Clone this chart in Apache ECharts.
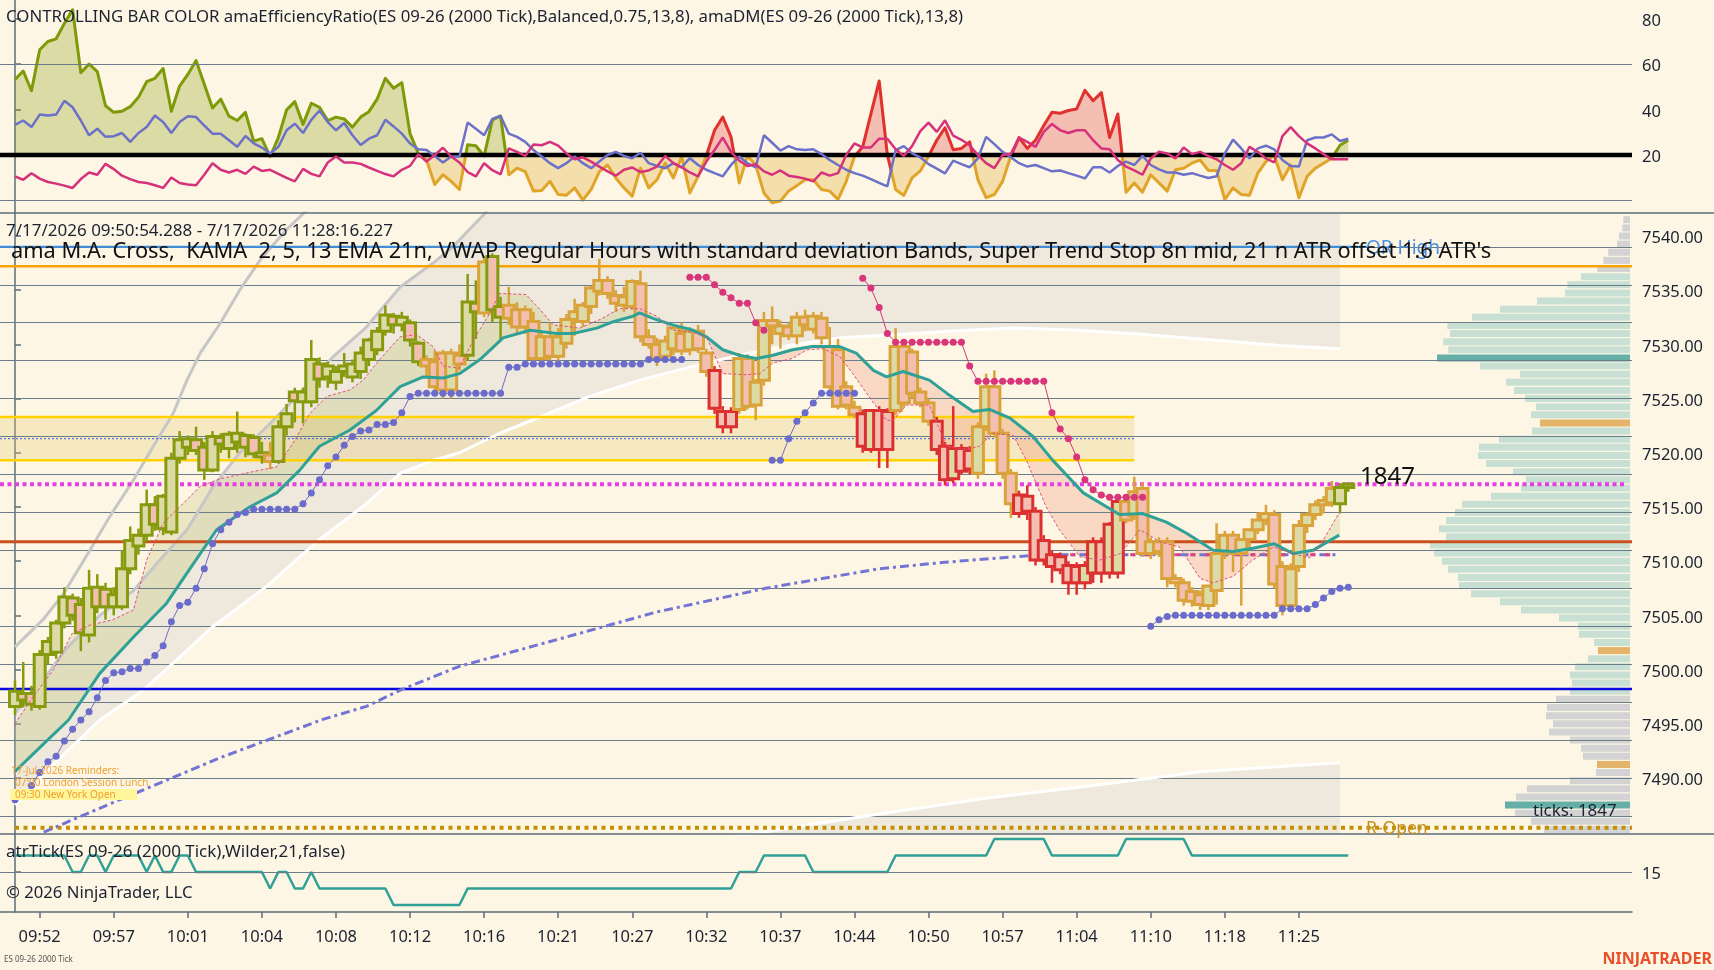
<!DOCTYPE html>
<html>
<head>
<meta charset="utf-8">
<script src="https://cdn.jsdelivr.net/npm/echarts@6/dist/echarts.min.js"></script>
<style>
html,body{margin:0;padding:0;background:#fdf6e4;overflow:hidden}
#chart{width:1714px;height:970px}
</style>
</head>
<body>
<div id="chart"></div>
<script>
// ---------------- DATA ----------------
const timeLabels = ["09:52","09:57","10:01","10:04","10:08","10:12","10:16","10:21","10:27","10:32","10:37","10:44","10:50","10:57","11:04","11:10","11:18","11:25"];
const timeLabelBars = [3,12,21,30,39,48,57,66,75,84,93,102,111,120,129,138,147,156];

const openP = [7496.6,7497.8,7497.8,7496.6,7501.4,7501.6,7504.3,7506.6,7506.0,7503.2,
7507.6,7507.4,7505.8,7505.8,7509.3,7511.4,7512.4,7515.2,7513.0,7512.7,
7519.5,7520.5,7521.2,7520.5,7518.4,7521.4,7520.4,7521.0,7521.6,7521.4,
7520.0,7519.8,7519.2,7522.4,7525.6,7524.7,7524.7,7528.2,7527.0,7526.5,
7527.5,7527.0,7527.5,7528.6,7529.5,7531.2,7532.6,7531.8,7532.0,7530.1,
7528.6,7528.4,7529.2,7525.8,7529.0,7529.0,7533.8,7532.9,7538.1,7533.5,
7533.6,7533.2,7533.2,7532.1,7528.7,7530.7,7528.9,7530.1,7532.3,7532.1,
7533.5,7534.9,7535.9,7534.5,7533.6,7533.5,7535.6,7530.7,7530.0,7528.9,
7529.6,7531.0,7529.5,7531.2,7529.2,7527.6,7523.8,7523.8,7524.0,7528.7,
7524.4,7526.7,7532.2,7531.0,7531.6,7530.8,7532.5,7531.4,7532.4,7529.8,
7529.5,7526.1,7524.2,7523.6,7520.3,7523.9,7523.8,7523.9,7529.8,7529.3,
7525.6,7524.6,7522.9,7520.6,7517.6,7520.4,7520.2,7518.1,7522.4,7526.1,
7521.8,7518.1,7516.1,7516.0,7514.6,7511.9,7510.6,7510.4,7509.6,7509.5,
7508.0,7508.9,7511.8,7508.9,7508.9,7515.5,7514.2,7516.7,7510.7,7511.8,
7511.8,7508.4,7508.0,7507.2,7506.9,7505.9,7507.3,7510.7,7512.4,7510.7,
7512.0,7512.9,7513.8,7514.3,7509.5,7505.9,7509.5,7513.3,7514.3,7515.2,
7515.4,7515.3,7516.8];
const highP = [7499.0,7500.7,7498.5,7501.8,7503.0,7504.6,7507.6,7507.0,7506.6,7509.2,
7508.8,7508.0,7507.6,7511.0,7513.2,7513.0,7516.6,7516.0,7516.2,7520.0,
7522.0,7521.6,7522.4,7521.0,7522.0,7521.8,7522.0,7523.8,7521.8,7521.7,
7521.0,7521.0,7523.0,7524.5,7526.0,7526.0,7530.4,7528.8,7528.4,7528.0,
7529.2,7528.6,7529.8,7530.6,7531.6,7533.6,7532.9,7533.0,7532.3,7530.3,
7529.0,7529.4,7529.5,7529.6,7530.0,7536.5,7535.9,7538.1,7538.4,7534.4,
7535.3,7533.9,7533.6,7533.0,7531.2,7532.0,7531.5,7532.8,7534.2,7533.9,
7535.4,7537.9,7536.3,7535.0,7535.3,7536.0,7536.8,7531.4,7530.6,7530.8,
7531.8,7532.0,7531.6,7531.8,7529.6,7528.0,7524.3,7524.2,7529.2,7529.1,
7526.8,7533.0,7533.5,7532.2,7532.0,7533.0,7533.2,7533.0,7533.0,7531.6,
7530.5,7526.6,7524.8,7524.0,7523.9,7524.3,7524.1,7531.5,7530.1,7529.6,
7526.0,7525.0,7523.3,7521.0,7524.3,7520.8,7520.6,7522.8,7527.3,7527.6,
7522.2,7518.5,7516.5,7517.0,7515.0,7512.4,7511.0,7510.8,7510.0,7509.9,
7510.0,7512.2,7512.2,7513.6,7515.9,7516.0,7517.8,7517.2,7512.2,7512.2,
7512.2,7508.8,7508.4,7507.6,7507.3,7507.8,7513.5,7512.8,7512.8,7512.0,
7513.0,7514.5,7515.2,7514.7,7510.0,7509.8,7513.8,7514.5,7515.6,7516.0,
7517.4,7517.2,7517.3];
const lowP = [7495.8,7496.5,7496.2,7496.3,7500.5,7501.0,7503.8,7504.5,7501.7,7502.5,
7505.2,7504.6,7505.0,7505.5,7508.8,7510.6,7511.8,7512.8,7512.4,7512.4,
7519.0,7519.8,7519.8,7517.5,7518.2,7520.0,7519.5,7520.0,7519.6,7519.5,
7519.0,7518.5,7519.0,7521.6,7522.8,7522.7,7524.2,7526.0,7526.0,7525.8,
7527.0,7526.5,7526.8,7528.0,7529.0,7530.8,7531.0,7531.2,7529.8,7528.0,
7527.0,7525.8,7525.0,7525.0,7527.6,7528.5,7530.5,7532.5,7532.0,7530.4,
7531.8,7531.0,7531.0,7528.4,7528.4,7528.5,7528.2,7529.6,7530.8,7531.6,
7532.8,7534.5,7534.2,7533.0,7533.0,7533.2,7530.2,7529.6,7528.0,7528.4,
7529.0,7529.0,7529.0,7529.2,7527.0,7523.6,7521.8,7521.8,7523.6,7524.0,
7523.0,7526.2,7530.0,7529.6,7530.4,7530.0,7531.2,7531.0,7530.0,7525.8,
7524.0,7524.0,7523.2,7520.0,7520.0,7518.6,7518.6,7523.5,7524.2,7525.0,
7524.2,7522.5,7519.8,7517.0,7517.2,7518.0,7518.0,7517.6,7522.0,7521.4,
7517.6,7514.0,7514.0,7513.8,7509.6,7509.6,7508.0,7508.8,7506.9,7506.9,
7507.4,7508.0,7508.0,7508.4,7508.4,7513.5,7513.8,7510.4,7510.2,7510.4,
7507.6,7507.6,7505.9,7505.8,7505.5,7505.5,7506.0,7510.2,7509.0,7505.9,
7511.2,7512.5,7513.3,7507.5,7505.0,7505.4,7509.0,7512.6,7513.8,7514.4,
7515.0,7514.4,7516.4];
const closeP = [7498.0,7497.2,7496.8,7501.4,7502.6,7504.3,7506.7,7505.0,7503.4,7507.5,
7505.8,7505.8,7506.9,7509.3,7511.9,7512.4,7515.2,7513.4,7516.0,7519.5,
7521.2,7521.3,7520.2,7518.4,7521.5,7520.8,7521.7,7521.8,7520.5,7519.9,
7519.6,7519.2,7522.4,7523.6,7524.8,7525.6,7528.6,7526.8,7528.0,7527.5,
7528.0,7528.2,7529.2,7530.4,7531.2,7532.7,7531.8,7532.5,7530.4,7528.4,
7528.0,7526.1,7525.8,7529.2,7528.2,7533.9,7533.0,7537.6,7533.2,7532.5,
7532.4,7531.6,7531.6,7528.7,7530.7,7528.9,7530.7,7532.3,7533.0,7533.6,
7535.2,7535.9,7534.7,7533.8,7534.4,7535.8,7530.7,7530.0,7528.7,7530.3,
7531.5,7529.4,7531.2,7529.6,7527.5,7524.1,7522.4,7522.4,7528.7,7524.3,
7526.5,7532.2,7531.7,7531.7,7530.8,7532.5,7531.8,7532.6,7530.6,7526.1,
7524.3,7524.4,7523.5,7520.6,7523.9,7520.3,7520.3,7529.8,7524.6,7525.5,
7524.6,7522.9,7520.3,7517.5,7520.4,7518.3,7518.5,7522.4,7526.1,7521.8,
7518.1,7515.3,7514.4,7514.6,7510.1,7510.1,7509.5,7509.2,7508.0,7508.0,
7509.6,7511.8,7508.9,7513.4,7515.5,7513.8,7516.4,7510.7,7511.8,7510.9,
7508.4,7508.0,7506.4,7506.3,7506.0,7507.7,7510.7,7512.4,7510.7,7512.0,
7512.9,7513.8,7514.4,7507.9,7505.9,7509.3,7513.3,7514.3,7515.2,7515.6,
7516.7,7516.8,7517.1];

// oscillator panel
const effRatio = [53.3,57.0,48.3,66.4,70.0,71.2,78.0,84.0,56.2,60.1,
56.7,41.7,38.8,39.3,41.3,45.4,52.3,53.8,58.1,39.3,
50.4,55.5,61.6,51.2,40.7,44.6,37.1,35.2,38.8,26.1,
27.2,19.3,27.7,39.9,43.5,33.5,42.8,41.0,35.2,36.7,
35.9,32.3,36.7,39.1,44.6,53.8,49.4,51.9,29.4,20.7,
17.8,7.0,11.3,8.4,4.8,24.5,24.1,19.5,35.5,37.2,
11.3,14.2,12.7,4.1,4.4,8.4,2.6,2.3,5.5,0.1,
4.8,12.7,15.6,9.9,5.5,1.9,14.2,5.5,9.1,16.4,
9.9,19.3,3.3,10.6,19.6,30.9,36.7,28.0,7.7,19.6,
15.6,3.3,-1.0,-0.3,4.1,6.5,9.1,9.1,4.8,4.1,
0.4,8.4,19.3,23.6,38.1,52.6,20.0,4.8,2.2,9.9,
13.0,19.5,26.5,32.0,22.3,22.9,25.8,9.1,1.2,2.6,
8.4,19.6,27.7,22.9,26.5,33.0,38.8,38.4,39.6,40.3,
48.5,43.9,47.5,27.7,38.1,3.6,7.7,3.6,11.3,7.7,
4.1,13.5,14.2,16.4,17.8,13.2,13.2,0.4,5.5,2.6,
2.3,12.0,17.1,19.8,9.1,15.6,1.2,10.6,14.2,16.4,
18.6,24.3,26.5];
const dmPlus = [33.3,35.2,32.3,37.8,37.4,37.8,43.9,41.0,35.2,28.7,
31.6,28.0,28.3,29.7,25.8,29.7,32.3,37.4,34.5,29.7,
34.5,37.1,36.7,33.0,29.4,29.4,26.5,23.6,28.4,25.1,
23.3,20.7,23.6,30.9,33.8,29.7,35.5,39.6,34.5,30.9,
34.1,28.7,24.4,27.2,28.7,35.5,32.6,29.4,25.1,22.5,
22.2,19.6,16.7,19.3,19.3,34.3,31.6,28.7,35.9,37.2,
29.4,28.0,25.8,22.2,19.3,16.4,14.2,16.4,19.3,16.4,
14.2,17.1,20.0,21.4,19.6,18.6,21.0,16.4,15.2,14.2,
16.4,14.6,18.6,15.6,13.5,12.0,10.6,15.6,19.3,16.4,
14.6,28.7,25.4,21.9,23.9,22.5,22.2,22.5,20.4,17.8,
15.6,13.5,12.0,10.9,9.4,7.7,6.2,22.2,23.9,20.7,
19.0,16.0,14.0,11.9,17.5,16.0,14.6,18.5,28.0,24.8,
21.4,19.0,16.4,14.9,15.6,14.2,12.8,13.2,12.0,10.9,
9.7,14.6,14.6,12.3,15.2,17.1,15.6,19.6,15.6,13.7,
12.3,12.3,11.3,12.0,10.9,9.9,10.6,20.7,26.8,22.9,
18.5,22.9,24.1,22.5,17.8,15.2,14.9,26.5,27.7,27.7,
29.1,26.2,27.2];
const dmMinus = [10.6,9.1,12.0,9.6,8.1,7.4,6.5,5.5,9.4,12.3,
11.3,16.1,13.8,10.9,9.4,8.1,7.7,6.7,5.5,10.1,
7.7,7.0,6.7,11.3,16.4,13.5,12.3,13.5,11.7,14.9,
13.0,13.5,11.7,9.9,8.4,13.9,11.7,10.6,16.7,19.3,
16.7,16.7,16.1,14.5,13.0,11.6,10.6,13.5,15.2,20.4,
17.1,20.0,23.2,19.3,16.7,12.5,10.6,16.4,13.3,11.5,
22.9,21.4,19.6,24.6,24.3,25.8,24.1,20.7,18.1,19.0,
17.1,14.9,12.8,10.9,13.5,14.5,12.5,13.2,14.9,19.6,
16.4,14.6,12.3,10.6,17.1,22.2,27.7,21.4,17.5,15.2,
15.9,12.8,11.3,13.2,10.9,10.3,9.6,8.4,12.3,10.9,
12.0,20.0,25.1,23.3,23.3,27.2,27.2,22.5,19.6,23.9,
30.5,34.3,30.2,35.3,28.5,26.7,24.3,20.0,16.4,14.2,
20.0,20.4,27.7,25.8,23.6,30.2,33.7,30.9,29.7,30.9,
30.9,26.5,22.9,22.5,17.8,14.9,13.2,11.3,18.5,21.4,
20.7,18.5,23.3,20.4,21.4,19.6,18.1,15.6,13.5,16.4,
23.6,21.4,18.5,16.7,28.3,32.3,28.3,25.1,22.9,20.4,
18.1,18.1,18.1];
const erThreshold = 20;

// ATR panel
const atrTicks = [16,16,16,16,16,16,16,15,15,16,
16,15,16,16,16,16,15,16,15,15,
16,16,15,15,15,15,15,15,15,15,
15,14,15,15,14,14,15,14,14,14,
14,14,14,14,14,14,13,13,13,13,
13,13,13,13,13,14,14,14,14,14,
14,14,14,14,14,14,14,14,14,14,
14,14,14,14,14,14,14,14,14,14,
14,14,14,14,14,14,14,14,15,15,
15,16,16,16,16,16,16,15,15,15,
15,15,15,15,15,15,15,16,16,16,
16,16,16,16,16,16,16,16,16,17,
17,17,17,17,17,17,16,16,16,16,
16,16,16,16,16,17,17,17,17,17,
17,17,17,16,16,16,16,16,16,16,
16,16,16,16,16,16,16,16,16,16,
16,16,16];

// moving averages [bar, price]
const ema21 = [[0,7490.6],[3,7492.8],[6.5,7495.35],[10.3,7499.65],[14.4,7503.0],[18.4,7506.1],[21.7,7509.8],[24.5,7512.9],[28.5,7515.0],[31.8,7516.3],[34.6,7518.4],[37,7520.6],[40.7,7522.1],[43.9,7523.9],[46.8,7526.1],[49.6,7527.0],[52,7526.9],[54,7527.3],[56.5,7528.6],[59.3,7530.6],[62.6,7531.3],[65.8,7531.0],[67.8,7531.0],[70.7,7531.5],[72.7,7532.1],[75.1,7532.6],[75.9,7532.9],[77.5,7532.4],[79.9,7531.8],[82.4,7531.3],[84,7530.7],[86,7529.5],[88,7529.0],[90.1,7528.7],[92.1,7529.0],[94.5,7529.5],[96.9,7529.8],[100.2,7529.8],[102.2,7529.2],[104.3,7527.6],[105.9,7527.0],[107.9,7527.5],[111.1,7526.7],[113.2,7525.5],[116.4,7523.8],[118.4,7524.0],[120.9,7523.2],[123.7,7521.5],[126.1,7519.3],[129.8,7516.3],[134.2,7514.3],[137,7514.4],[139.9,7513.6],[142.3,7512.6],[145.6,7511.0],[148,7510.9],[150.4,7511.2],[153,7511.6],[155.3,7510.7],[157.7,7511.0],[160.9,7512.4]];
const kama = [[0,7495.0],[2.2,7497.5],[4.7,7500.0],[6.9,7503.3],[9.1,7504.1],[11.9,7504.6],[14.4,7505.5],[16,7510.1],[18,7513.5],[20,7515.0],[22.5,7516.9],[24.9,7517.6],[29.8,7518.4],[31.8,7518.7],[33.8,7520.9],[35.8,7523.6],[37.9,7525.2],[40.7,7525.8],[42.3,7526.7],[44.3,7528.6],[46.8,7530.7],[48.8,7530.9],[50.8,7529.8],[52,7528.0],[54,7527.8],[55.7,7530.4],[57.7,7532.9],[58.9,7534.7],[62.1,7534.6],[63.8,7533.2],[65.4,7531.8],[68.6,7531.5],[71.1,7532.3],[73.5,7533.3],[75.9,7533.3],[78,7532.6],[80,7531.3],[82.4,7531.1],[84,7530.7],[86,7527.3],[88.9,7527.2],[90.5,7527.3],[92.1,7528.3],[94.5,7528.7],[96.2,7529.5],[98.2,7529.6],[100.2,7528.9],[101.8,7527.3],[104.3,7524.6],[105.9,7523.0],[106.7,7523.0],[108.3,7524.4],[111.1,7524.4],[113.2,7520.6],[115.6,7520.3],[117.2,7520.6],[118.8,7521.8],[121.3,7521.6],[122.9,7519.3],[125.3,7515.0],[126.9,7512.9],[129.4,7510.4],[131.8,7510.1],[134.3,7510.7],[136.7,7512.9],[139.1,7511.8],[141.5,7511.3],[144,7508.4],[145.6,7508.0],[148,7508.6],[150.4,7510.1],[152.9,7511.3],[155.3,7510.7],[157.3,7510.3],[159,7512.0],[161,7514.6]];

// VWAP and deviation bands [bar, price]
const vwap = [[3.5,7485.0],[11.5,7487.6],[24.7,7491.8],[37.4,7495.4],[42.7,7496.6],[46.8,7498.1],[54,7500.3],[64.6,7502.5],[77.9,7505.3],[91.2,7507.5],[105,7509.3],[113,7509.9],[121.3,7510.4],[125.3,7510.6],[160.5,7510.6]];
const vwapDevLine = [[125.3,7510.6],[160.5,7510.6]];
const bandUpper3 = [[0,7502.1],[3.4,7504.6],[5.9,7507.0],[9.1,7511.0],[11.5,7514.1],[14.4,7517.5],[16.8,7520.6],[19.2,7523.6],[20.9,7526.7],[22.5,7529.2],[24.9,7531.9],[27.3,7535.0],[29.8,7537.8],[33,7540.6],[35.5,7542.4]];
const bandUpper2 = [[0,7496.0],[3.4,7499.0],[6.3,7502.0],[10.3,7505.0],[14.4,7507.3],[17.6,7510.1],[20.9,7512.9],[24.1,7516.9],[27.3,7520.0],[30.6,7522.4],[34.6,7525.5],[38.7,7528.9],[42.7,7531.6],[46.8,7535.3],[50.8,7537.5],[53.2,7539.0],[57.5,7542.4]];
const bandUpper1 = [[0,7487.5],[5,7491.5],[10.3,7495.35],[15.6,7498.1],[19.2,7500.6],[24.1,7504.0],[30.6,7507.7],[37,7512.0],[42.7,7515.3],[46.8,7518.1],[50.8,7519.3],[54,7520.0],[58.9,7521.8],[63.8,7523.3],[69.8,7525.2],[75.9,7526.7],[82,7527.9],[88,7529.0],[94.1,7529.9],[100.2,7530.6],[107.5,7530.9],[113.2,7531.2],[121.3,7531.5],[129.4,7531.3],[137.5,7530.9],[145.6,7530.4],[153.7,7529.9],[161,7529.6]];
const bandLower1 = [[83,7484.0],[95,7485.5],[104.4,7486.6],[117.7,7488.1],[131,7489.3],[144.3,7490.6],[161,7491.4]];
const bandEndBar = 161;

// super trend stop (per bar, null where inactive)
const stBull = [7488.0,7488.3,7489.3,7490.5,7491.5,7492.0,7493.4,7494.5,7495.35,7496.1,
7497.4,7499.0,7499.7,7499.8,7500.1,7500.1,7500.7,7501.3,7502.2,7504.4,
7505.9,7506.2,7507.5,7509.3,7511.6,7512.9,7513.6,7514.3,7514.5,7514.8,
7514.8,7514.8,7514.8,7514.8,7514.8,7515.3,7516.3,7517.5,7518.8,7519.6,
7520.7,7521.5,7522.0,7522.1,7522.6,7522.6,7522.8,7523.7,7525.2,7525.5,
7525.5,7525.5,7525.5,7525.5,7525.5,7525.5,7525.5,7525.5,7525.5,7525.5,
7527.9,7527.9,7528.2,7528.2,7528.2,7528.2,7528.2,7528.2,7528.2,7528.2,
7528.2,7528.2,7528.2,7528.2,7528.2,7528.2,7528.2,7528.6,7528.6,7528.6,
7528.6,7528.6,null,null,null,null,null,null,null,null,
null,null,7519.3,7519.3,7521.3,7522.9,7523.7,7524.6,7525.5,7525.5,
7525.5,7525.5,7525.5,null,null,null,null,null,null,null,
null,null,null,null,null,null,null,null,null,null,
null,null,null,null,null,null,null,null,null,null,
null,null,null,null,null,null,null,null,7504.0,7504.6,
7504.9,7505.0,7505.0,7505.0,7505.0,7505.0,7505.0,7505.0,7505.0,7505.0,
7505.0,7505.0,7505.0,7505.0,7505.6,7505.6,7505.6,7505.6,7506.0,7506.6,
7507.2,7507.5,7507.6];
const stBear = [null,null,null,null,null,null,null,null,null,null,
null,null,null,null,null,null,null,null,null,null,
null,null,null,null,null,null,null,null,null,null,
null,null,null,null,null,null,null,null,null,null,
null,null,null,null,null,null,null,null,null,null,
null,null,null,null,null,null,null,null,null,null,
null,null,null,null,null,null,null,null,null,null,
null,null,null,null,null,null,null,null,null,null,
null,null,7536.2,7536.2,7536.2,7535.5,7534.8,7534.3,7533.8,7533.8,
7532.0,7531.3,null,null,null,null,null,null,null,null,
null,null,null,7536.1,7535.2,7533.4,7531.0,7530.2,7530.2,7530.2,
7530.2,7530.2,7530.2,7530.2,7530.2,7530.2,7528.0,7526.6,7526.6,7526.6,
7526.6,7526.6,7526.6,7526.6,7526.6,7526.6,7523.7,7522.2,7521.3,7519.6,
7517.5,7516.6,7516.1,7515.9,7515.9,7515.9,7515.9,7515.9,null,null,
null,null,null,null,null,null,null,null,null,null,
null,null,null,null,null,null,null,null,null,null,
null,null,null];

// horizontal reference levels
const orHigh = 7539.0, orHighEndBar = 164.3;
const orangeLevel = 7537.2;
const zoneHigh = 7523.3, zoneLow = 7519.3, zoneMid = 7521.3, zoneEndBar = 136;
const lastPriceLevel = 7517.1;
const redLevel = 7511.8;
const blueLevel = 7498.2;
const rOpenLevel = 7485.4;
const priceGridLevels = [7486.5,7490,7493.5,7497,7500.5,7504,7507.5,7511,7514.5,7518,7521.5,7525,7528.5,7532,7535.5,7539];
const priceTicks = [7490,7495,7500,7505,7510,7515,7520,7525,7530,7535,7540];

// volume profile (ticks per row, relative)
const vpPrice = [7541.5,7540.75,7540,7539.25,7538.5,7537.75,7537,7536.25,7535.5,7534.75,7534,7533.25,7532.5,7531.75,7531,7530.25,7529.5,7528.75,7528,7527.25,7526.5,7525.75,7525,7524.25,7523.5,7522.75,7522,7521.25,7520.5,7519.75,7519,7518.25,7517.5,7516.75,7516,7515.25,7514.5,7513.75,7513,7512.25,7511.5,7510.75,7510,7509.25,7508.5,7507.75,7507,7506.25,7505.5,7504.75,7504,7503.25,7502.5,7501.75,7501,7500.25,7499.5,7498.75,7498,7497.25,7496.5,7495.75,7495,7494.25,7493.5,7492.75,7492,7491.25,7490.5,7489.75,7489,7488.25,7487.5,7486.75,7486,7485.25,7484.5];
const vpVolume = [6.7,7.7,11,13,21.7,26.7,32.7,49,62.7,65,93,130,158,182.7,180,186.7,181.7,193,150,110,124,116,105,94,99,90,98,131,151,152,144,117,104,109,139,168,175,184,191,184,200,196,188,182,172,171,159,130,109,71,52,51,36,32,42,55,60,58,60,74,83,84,77,81,60,49,47,33,34,60,103,114,125,115,99,86,77];
const vpKind = ['g','g','g','g','g','g','g','v','v','v','v','v','v','v','v','v','v','p','v','v','v','v','v','v','v','o','v','v','v','v','v','v','v','v','v','v','v','v','v','v','v','v','v','v','v','v','v','v','v','v','v','v','v','o','v','v','v','v','v','g','g','g','g','g','g','g','g','o','g','g','g','g','p','g','g','g','g'];

// ---------------- LAYOUT / STYLE ----------------
const BAR_PX = 8.23, FIRST_BAR_PX = 15, PLOT_W = 1632;
const xMin = -FIRST_BAR_PX / BAR_PX, xMax = xMin + PLOT_W / BAR_PX;
const priceMin = 7484.83, priceMax = 7542.12;
const oscMin = -5.55, oscMax = 88.3;
const atrMin = 12.58, atrMax = 17.3;
const FONT = '"Noto Sans", "Open Sans", sans-serif';
const AXIS_COL = '#5b6e7b', GRID_COL = '#6a7e8a', TXT = '#1b2230';

const ER_STYLE = {
  G: {line: '#7e9a08', fill: 'rgba(128,148,0,0.27)'},
  R: {line: '#e0312f', fill: 'rgba(224,50,50,0.28)'},
  Y: {line: '#e0a428', fill: 'rgba(224,164,40,0.30)'}
};
const CANDLE_COL = {G: '#869a0e', R: '#dc3030', Y: '#d9a23a'};

function erRegime(i) {
  const v = effRatio[i];
  if (v < erThreshold) return 'Y';
  return dmMinus[i] > dmPlus[i] ? 'R' : 'G';
}
function interp(pts, x) {
  if (x <= pts[0][0]) return pts[0][1];
  for (let k = 1; k < pts.length; k++) {
    if (x <= pts[k][0]) {
      const a = pts[k - 1], b = pts[k];
      return a[1] + (b[1] - a[1]) * (x - a[0]) / (b[0] - a[0]);
    }
  }
  return pts[pts.length - 1][1];
}

// ---------------- RENDERERS ----------------
function renderER(params, api) {
  const runs = []; let cur = null;
  for (let i = 0; i < effRatio.length - 1; i++) {
    const e0 = effRatio[i], e1 = effRatio[i + 1];
    const r0 = erRegime(i), r1 = erRegime(i + 1);
    let pieces;
    if (r0 === r1) pieces = [[i, e0, i + 1, e1, r0]];
    else {
      let xm, ym;
      if ((e0 - erThreshold) * (e1 - erThreshold) < 0) { const t = (erThreshold - e0) / (e1 - e0); xm = i + t; ym = erThreshold; }
      else { xm = i + 0.5; ym = (e0 + e1) / 2; }
      pieces = [[i, e0, xm, ym, r0], [xm, ym, i + 1, e1, r1]];
    }
    pieces.forEach(p => {
      if (cur && cur.r === p[4]) cur.pts.push([p[2], p[3]]);
      else { if (cur) runs.push(cur); cur = {r: p[4], pts: [[p[0], p[1]], [p[2], p[3]]]}; }
    });
  }
  if (cur) runs.push(cur);
  const ch = [];
  runs.forEach(run => {
    const pts = run.pts.map(p => api.coord(p));
    const poly = [api.coord([run.pts[0][0], erThreshold])].concat(pts, [api.coord([run.pts[run.pts.length - 1][0], erThreshold])]);
    ch.push({type: 'polygon', shape: {points: poly}, style: {fill: ER_STYLE[run.r].fill}, z2: 1});
  });
  runs.forEach(run => {
    ch.push({type: 'polyline', shape: {points: run.pts.map(p => api.coord(p))}, style: {stroke: ER_STYLE[run.r].line, lineWidth: 3, fill: null, lineJoin: 'round'}, z2: 2});
  });
  return {type: 'group', children: ch};
}

function fillBetween(api, upFn, loFn, a, b, step) {
  const top = [], bot = [];
  for (let x = a; x <= b + 1e-9; x += step) { top.push(api.coord([x, upFn(x)])); bot.push(api.coord([x, loFn(x)])); }
  return top.concat(bot.reverse());
}
function renderBands(params, api) {
  const ch = [];
  ch.push({type: 'polygon', shape: {points: fillBetween(api, x => (x > bandUpper2[bandUpper2.length - 1][0] ? priceMax + 2 : interp(bandUpper2, x)), x => interp(bandUpper1, x), 0, bandEndBar, 0.5)}, style: {fill: 'rgba(200,200,200,0.28)'}});
  ch.push({type: 'polygon', shape: {points: fillBetween(api, x => interp(bandLower1, x), x => priceMin - 2, bandLower1[0][0], bandEndBar, 0.5)}, style: {fill: 'rgba(200,200,200,0.28)'}});
  return {type: 'group', children: ch};
}
function renderMAFill(params, api) {
  const ch = []; const step = 0.25;
  let run = null;
  const flush = () => {
    if (run && run.xs.length > 1) {
      const top = run.xs.map(x => api.coord([x, interp(kama, x)]));
      const bot = run.xs.map(x => api.coord([x, interp(ema21, x)])).reverse();
      ch.push({type: 'polygon', shape: {points: top.concat(bot)}, style: {fill: run.bull ? 'rgba(170,175,60,0.20)' : 'rgba(240,120,95,0.24)'}});
    }
  };
  for (let x = 0; x <= 161 + 1e-9; x += step) {
    const bull = interp(kama, x) >= interp(ema21, x);
    if (!run || run.bull !== bull) { const last = run ? run.xs[run.xs.length - 1] : null; flush(); run = {bull, xs: last !== null ? [last] : []}; }
    run.xs.push(x);
  }
  flush();
  return {type: 'group', children: ch};
}
function renderCandle(params, api) {
  const i = api.value(0), o = api.value(1), c = api.value(2), l = api.value(3), h = api.value(4);
  const col = CANDLE_COL[erRegime(i)];
  const pO = api.coord([i, o]), pC = api.coord([i, c]), pL = api.coord([i, l]), pH = api.coord([i, h]);
  const x = pO[0], top = Math.min(pO[1], pC[1]), bot = Math.max(pO[1], pC[1]);
  const hw = 5.5;
  return {type: 'group', children: [
    {type: 'line', shape: {x1: x, y1: pH[1], x2: x, y2: top}, style: {stroke: col, lineWidth: 2.5}},
    {type: 'line', shape: {x1: x, y1: bot, x2: x, y2: pL[1]}, style: {stroke: col, lineWidth: 2.5}},
    {type: 'rect', shape: {x: x - hw, y: top, width: hw * 2, height: Math.max(bot - top, 1.5)}, style: {fill: c >= o ? '#dcdaa5' : '#f2bfb1', stroke: col, lineWidth: 3}}
  ]};
}
function renderVP(params, api) {
  const vol = api.value(0), p = api.value(1), kind = vpKind[params.dataIndex];
  const a = api.coord([0, p]), b = api.coord([vol, p]);
  const col = {g: '#d3d3d3', v: '#c8e0d3', p: '#66aea8', o: '#e4b46a'}[kind];
  return {type: 'rect', shape: {x: b[0], y: a[1] - 3.5, width: a[0] - b[0], height: 7}, style: {fill: col}};
}
function zone(params, api) {
  const a = api.coord([xMin, zoneHigh]), b = api.coord([zoneEndBar, zoneLow]);
  return {type: 'rect', shape: {x: a[0], y: a[1], width: b[0] - a[0], height: b[1] - a[1]}, style: {fill: 'rgba(232,200,110,0.30)'}};
}

// helpers for series
const pair = arr => arr.map((v, i) => [i, v]);
function hline(y, x0, x1, color, width, type, z, xi, yi) {
  return {type: 'line', xAxisIndex: xi, yAxisIndex: yi, data: [[x0, y], [x1, y]], symbol: 'none', silent: true, z: z,
    lineStyle: {color: color, width: width, type: type || 'solid'}, animation: false};
}
function gridLines(levels, xi, yi) {
  return {type: 'line', xAxisIndex: xi, yAxisIndex: yi, data: [], silent: true, z: 1,
    markLine: {silent: true, symbol: 'none', label: {show: false}, animation: false,
      lineStyle: {color: GRID_COL, width: 1, type: 'solid'}, data: levels.map(v => ({yAxis: v}))}};
}

// ---------------- OPTION ----------------
const xBase = {type: 'value', min: xMin, max: xMax, splitLine: {show: false}};
const yLabel = {fontSize: 16.5, fontFamily: FONT, color: TXT, margin: 10,
  rich: {t: {fontSize: 16.5, fontFamily: FONT, color: TXT, padding: [5, 0, 0, 0]}}};
const option = {
  animation: false,
  backgroundColor: '#fdf6e4',
  grid: [
    {left: 0, right: 82, top: 0, height: 213},
    {left: 0, right: 82, top: 213, height: 621},
    {left: 0, right: 82, top: 834, height: 78}
  ],
  xAxis: [
    Object.assign({gridIndex: 0, show: false}, xBase),
    Object.assign({gridIndex: 1, show: false}, xBase),
    Object.assign({gridIndex: 2,
      axisLine: {show: true, lineStyle: {color: AXIS_COL, width: 1.5}},
      axisTick: {show: true, customValues: timeLabelBars, length: 6, lineStyle: {color: AXIS_COL, width: 1.5}},
      axisLabel: {show: true, customValues: timeLabelBars, fontSize: 16.5, fontFamily: FONT, color: TXT, margin: 17,
        formatter: v => { const k = timeLabelBars.indexOf(Math.round(v)); return k >= 0 ? timeLabels[k] : ''; }}
    }, xBase),
    {type: 'value', gridIndex: 1, show: false, inverse: true, min: -2, max: PLOT_W - 2}
  ],
  yAxis: [
    {type: 'value', gridIndex: 0, position: 'right', min: oscMin, max: oscMax, splitLine: {show: false},
      axisLine: {show: true, lineStyle: {color: AXIS_COL, width: 1.5}},
      axisTick: {show: true, customValues: [20, 40, 60, 80], length: 6, lineStyle: {color: AXIS_COL, width: 1.5}},
      axisLabel: Object.assign({customValues: [20, 40, 60, 80], formatter: v => '{t|' + v + '}'}, yLabel)},
    {type: 'value', gridIndex: 1, position: 'right', min: priceMin, max: priceMax, splitLine: {show: false},
      axisLine: {show: true, lineStyle: {color: AXIS_COL, width: 1.5}},
      axisTick: {show: true, customValues: priceTicks, length: 6, lineStyle: {color: AXIS_COL, width: 1.5}},
      axisLabel: Object.assign({customValues: priceTicks, formatter: v => '{t|' + v.toFixed(2) + '}'}, yLabel)},
    {type: 'value', gridIndex: 2, position: 'right', min: atrMin, max: atrMax, splitLine: {show: false},
      axisLine: {show: true, lineStyle: {color: AXIS_COL, width: 1.5}},
      axisTick: {show: true, customValues: [15], length: 6, lineStyle: {color: AXIS_COL, width: 1.5}},
      axisLabel: Object.assign({customValues: [15], formatter: v => '{t|' + v + '}'}, yLabel)}
  ],
  series: [
    // ---- oscillator panel ----
    gridLines([60, 0], 0, 0),
    {type: 'custom', xAxisIndex: 0, yAxisIndex: 0, renderItem: renderER, data: [[0, 20]], z: 2, silent: true, clip: true},
    hline(erThreshold, xMin, xMax, '#000000', 4.5, 'solid', 3, 0, 0),
    {type: 'line', xAxisIndex: 0, yAxisIndex: 0, data: pair(dmPlus), symbol: 'none', z: 4, lineStyle: {color: '#6b70c9', width: 2.5}},
    {type: 'line', xAxisIndex: 0, yAxisIndex: 0, data: pair(dmMinus), symbol: 'none', z: 4, lineStyle: {color: '#d6317c', width: 2.5}},

    // ---- price panel ----
    {type: 'custom', xAxisIndex: 1, yAxisIndex: 1, renderItem: renderBands, data: [[0, 7500]], z: 1, silent: true, clip: true},
    {type: 'custom', xAxisIndex: 3, yAxisIndex: 1, renderItem: renderVP, data: vpVolume.map((v, k) => [v, vpPrice[k]]), z: 2, silent: true, clip: true,
      encode: {x: 0, y: 1}},
    {type: 'custom', xAxisIndex: 1, yAxisIndex: 1, renderItem: zone, data: [[0, 7521]], z: 2, silent: true, clip: true},
    gridLines(priceGridLevels, 1, 1),
    {type: 'custom', xAxisIndex: 1, yAxisIndex: 1, renderItem: renderMAFill, data: [[0, 7500]], z: 4, silent: true, clip: true},
    {type: 'line', xAxisIndex: 1, yAxisIndex: 1, data: bandUpper3, symbol: 'none', z: 5, lineStyle: {color: '#c6c6c6', width: 3}},
    {type: 'line', xAxisIndex: 1, yAxisIndex: 1, data: bandUpper2, symbol: 'none', z: 5, lineStyle: {color: '#c6c6c6', width: 3}},
    {type: 'line', xAxisIndex: 1, yAxisIndex: 1, data: bandUpper1, symbol: 'none', z: 5, lineStyle: {color: '#ffffff', width: 3}},
    {type: 'line', xAxisIndex: 1, yAxisIndex: 1, data: bandLower1, symbol: 'none', z: 5, lineStyle: {color: '#ffffff', width: 3}},
    hline(zoneHigh, xMin, zoneEndBar, '#ffd200', 2.5, 'solid', 6, 1, 1),
    hline(zoneLow, xMin, zoneEndBar, '#ffd200', 2.5, 'solid', 6, 1, 1),
    hline(zoneMid, xMin, zoneEndBar, '#3a5be0', 1, [2, 2], 6, 1, 1),
    hline(orHigh, xMin, orHighEndBar, '#3d8fe0', 2, 'solid', 6, 1, 1),
    hline(orangeLevel, xMin, xMax, '#f5a300', 2.5, 'solid', 6, 1, 1),
    hline(lastPriceLevel, xMin, xMax - 0.6, '#e33fe3', 4, [4, 3.5], 6, 1, 1),
    hline(redLevel, xMin, xMax, '#c8501e', 3, 'solid', 6, 1, 1),
    hline(blueLevel, xMin, xMax, '#0a0ae0', 2.5, 'solid', 6, 1, 1),
    hline(rOpenLevel, 0, xMax, '#c49000', 4, [4, 4.5], 6, 1, 1),
    {type: 'line', xAxisIndex: 1, yAxisIndex: 1, data: vwap, symbol: 'none', z: 7, lineStyle: {color: '#7474d4', width: 3, type: [9, 4, 3, 4]}},
    {type: 'line', xAxisIndex: 1, yAxisIndex: 1, data: vwapDevLine, symbol: 'none', z: 7, lineStyle: {color: '#e0407e', width: 3, type: [5, 10], dashOffset: 6}},
    {type: 'custom', xAxisIndex: 1, yAxisIndex: 1, renderItem: renderCandle, z: 8, silent: true, clip: true,
      data: closeP.map((c, i) => [i, openP[i], c, lowP[i], highP[i]]), encode: {x: 0, y: [1, 2, 3, 4]}},
    {type: 'line', xAxisIndex: 1, yAxisIndex: 1, data: ema21, symbol: 'none', z: 9, lineStyle: {color: '#2fa197', width: 3}},
    {type: 'line', xAxisIndex: 1, yAxisIndex: 1, data: kama, symbol: 'none', z: 9, lineStyle: {color: '#e0507c', width: 1, type: [3, 2]}},
    {type: 'line', xAxisIndex: 1, yAxisIndex: 1, data: pair(stBull), symbol: 'circle', symbolSize: 7, showSymbol: true, connectNulls: false, z: 10,
      itemStyle: {color: '#6b6bcb'}, lineStyle: {color: '#6b6bcb', width: 1}},
    {type: 'line', xAxisIndex: 1, yAxisIndex: 1, data: pair(stBear), symbol: 'circle', symbolSize: 7, showSymbol: true, connectNulls: false, z: 10,
      itemStyle: {color: '#d8357a'}, lineStyle: {color: '#d8357a', width: 1}},

    // ---- ATR panel ----
    gridLines([15], 2, 2),
    {type: 'line', xAxisIndex: 2, yAxisIndex: 2, data: pair(atrTicks), symbol: 'none', z: 4, lineStyle: {color: '#2fa197', width: 2.5}}
  ],
  graphic: [
    {type: 'line', shape: {x1: 0, y1: 213, x2: 1714, y2: 213}, style: {stroke: AXIS_COL, lineWidth: 1.5}, z: 50},
    {type: 'line', shape: {x1: 0, y1: 834, x2: 1714, y2: 834}, style: {stroke: AXIS_COL, lineWidth: 1.5}, z: 50},
    {type: 'text', x: 6, y: 17, z: 60, style: {text: 'CONTROLLING BAR COLOR amaEfficiencyRatio(ES 09-26 (2000 Tick),Balanced,0.75,13,8), amaDM(ES 09-26 (2000 Tick),13,8)', fill: TXT, fontSize: 16.8, fontFamily: FONT, textVerticalAlign: 'middle'}},
    {type: 'text', x: 6, y: 231, z: 60, style: {text: '7/17/2026 09:50:54.288 - 7/17/2026 11:28:16.227', fill: TXT, fontSize: 17, fontFamily: FONT, textVerticalAlign: 'middle'}},
    {type: 'text', x: 1366, y: 249, z: 59, style: {text: 'OR High', fill: '#4a90e2', fontSize: 19, fontFamily: FONT, textVerticalAlign: 'middle'}},
    {type: 'text', x: 11, y: 252, z: 60, style: {text: "ama M.A. Cross,  KAMA  2, 5, 13 EMA 21n, VWAP Regular Hours with standard deviation Bands, Super Trend Stop 8n mid, 21 n ATR offset 1.6 ATR's", fill: '#111111', fontSize: 21.8, fontFamily: FONT, textVerticalAlign: 'middle'}},
    {type: 'text', x: 1360, y: 477, z: 60, style: {text: '1847', fill: '#111111', fontSize: 24, fontFamily: FONT, textVerticalAlign: 'middle'}},
    {type: 'text', x: 1366, y: 829, z: 60, style: {text: 'R-Open', fill: '#c49020', fontSize: 17.5, fontFamily: FONT, textVerticalAlign: 'middle'}},
    {type: 'text', x: 1533, y: 811, z: 60, style: {text: 'ticks: 1847', fill: TXT, fontSize: 17, fontFamily: FONT, textVerticalAlign: 'middle'}},
    {type: 'rect', shape: {x: 10, y: 789, width: 127, height: 11}, style: {fill: '#fff59a'}, z: 58},
    {type: 'text', x: 11, y: 771, z: 60, style: {text: '17-Jul-2026 Reminders:', fill: '#f0a030', fontSize: 10, fontFamily: FONT, textVerticalAlign: 'middle'}},
    {type: 'text', x: 15, y: 783, z: 60, style: {text: '07:00 London Session Lunch', fill: '#f0a030', fontSize: 10, fontFamily: FONT, textVerticalAlign: 'middle'}},
    {type: 'text', x: 15, y: 795, z: 60, style: {text: '09:30 New York Open', fill: '#f0a030', fontSize: 10, fontFamily: FONT, textVerticalAlign: 'middle'}},
    {type: 'text', x: 6, y: 852, z: 60, style: {text: 'atrTick(ES 09-26 (2000 Tick),Wilder,21,false)', fill: TXT, fontSize: 17, fontFamily: FONT, textVerticalAlign: 'middle'}},
    {type: 'text', x: 6, y: 893, z: 60, style: {text: '© 2026 NinjaTrader, LLC', fill: TXT, fontSize: 16.7, fontFamily: FONT, textVerticalAlign: 'middle'}},
    {type: 'text', x: 4, y: 960, z: 60, style: {text: 'ES 09-26 2000 Tick', fill: '#555555', fontSize: 8, fontFamily: FONT, textVerticalAlign: 'middle'}},
    {type: 'text', x: 1712, y: 959, z: 60, style: {text: 'NINJATRADER', fill: '#e8502a', fontSize: 16, fontWeight: 'bold', fontFamily: FONT, textAlign: 'right', textVerticalAlign: 'middle'}}
  ]
};
const chart = echarts.init(document.getElementById('chart'), null, {renderer: 'canvas'});
chart.setOption(option);
</script>
</body>
</html>
